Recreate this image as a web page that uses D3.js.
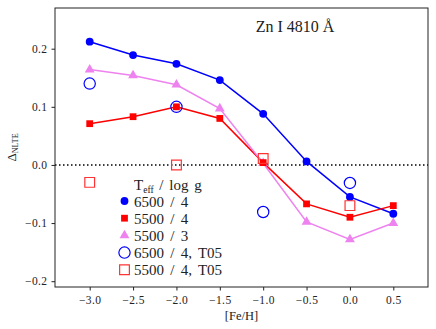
<!DOCTYPE html>
<html>
<head>
<meta charset="utf-8">
<script src="https://cdn.jsdelivr.net/npm/d3@7"></script>
<style>
body { margin: 0; background: #fff; }
text { font-family: "Liberation Serif", "DejaVu Serif", serif; fill: #222; }
</style>
</head>
<body>
<svg id="chart"></svg>
<script>
var width = 436, height = 329;
var margin = {top: 8, right: 8, bottom: 42, left: 55};

var feh = [-3.0, -2.5, -2.0, -1.5, -1.0, -0.5, 0.0, 0.5];
var hot_dwarf = [0.212, 0.189, 0.174, 0.146, 0.088, 0.006, -0.055, -0.084];   // 6500 / 4
var cool_dwarf = [0.071, 0.083, 0.100, 0.080, 0.004, -0.067, -0.090, -0.070]; // 5500 / 4
var cool_giant = [0.164, 0.154, 0.138, 0.097, 0.003, -0.098, -0.128, -0.100]; // 5500 / 3

var t05_feh = [-3.0, -2.0, -1.0, 0.0];
var t05_hot = [0.140, 0.100, -0.081, -0.031];
var t05_cool = [-0.030, 0.000, 0.011, -0.070];

var xticks = [-3.0, -2.5, -2.0, -1.5, -1.0, -0.5, 0.0, 0.5];
var yticks = [-0.2, -0.1, 0.0, 0.1, 0.2];

var svg = d3.select("#chart").attr("width", width).attr("height", height);

var x = d3.scaleLinear().domain([-3.4, 0.9]).range([margin.left, width - margin.right]);
var y = d3.scaleLinear().domain([-0.21, 0.27]).range([height - margin.bottom, margin.top]);

// zero line
svg.append("line")
    .attr("x1", x.range()[0]).attr("x2", x.range()[1])
    .attr("y1", y(0)).attr("y2", y(0))
    .attr("stroke", "#000").attr("stroke-width", 1.5)
    .attr("stroke-dasharray", "1.5,2.5");

var line = d3.line().x(function(d) { return x(d[0]); }).y(function(d) { return y(d[1]); });

function series(vals, color) {
    var pts = feh.map(function(f, i) { return [f, vals[i]]; });
    svg.append("path").datum(pts)
        .attr("d", line).attr("fill", "none")
        .attr("stroke", color).attr("stroke-width", 1.5);
    return pts;
}

var sym_circle = d3.symbol().type(d3.symbolCircle).size(48);
var sym_square = d3.symbol().type(d3.symbolSquare).size(46);
var sym_tri = d3.symbol().type(d3.symbolTriangle).size(42);

function markers(pts, sym, color, filled) {
    svg.append("g").selectAll("path")
        .data(pts).enter().append("path")
        .attr("transform", function(d) { return "translate(" + x(d[0]) + "," + y(d[1]) + ")"; })
        .attr("d", sym)
        .attr("fill", filled ? color : "none")
        .attr("stroke", color)
        .attr("stroke-width", filled ? 0 : 1.2);
}

var p1 = series(hot_dwarf, "#0000ff");
var p2 = series(cool_dwarf, "#ff0000");
var p3 = series(cool_giant, "#ee82ee");

var open_circle = d3.symbol().type(d3.symbolCircle).size(100);
var open_square = d3.symbol().type(d3.symbolSquare).size(95);

markers(p3, sym_tri, "#ee82ee", true);
markers(p2, sym_square, "#ff0000", true);
markers(p1, sym_circle, "#0000ff", true);

markers(t05_feh.map(function(f, i) { return [f, t05_hot[i]]; }), open_circle, "#0000ff", false);
markers(t05_feh.map(function(f, i) { return [f, t05_cool[i]]; }), open_square, "#ff3333", false);

// axes
var fmt = function(d) { return d3.format(".1f")(d).replace("-", "\u2212"); };
var xAxis = svg.append("g")
    .attr("transform", "translate(0," + (height - margin.bottom) + ")")
    .call(d3.axisBottom(x).tickValues(xticks).tickSize(3.5).tickPadding(5).tickFormat(fmt));
var yAxis = svg.append("g")
    .attr("transform", "translate(" + margin.left + ",0)")
    .call(d3.axisLeft(y).tickValues(yticks).tickSize(3.5).tickPadding(4).tickFormat(fmt));
[xAxis, yAxis].forEach(function(a) {
    a.selectAll(".domain").remove();
    a.selectAll("text").style("font-size", "11.5px").style("letter-spacing", "0.4px")
        .attr("fill", "#333")
        .style("font-family", "'Liberation Serif', serif");
    a.selectAll("line").attr("stroke", "#222");
});

svg.append("rect")
    .attr("x", margin.left).attr("y", margin.top)
    .attr("width", width - margin.left - margin.right)
    .attr("height", height - margin.top - margin.bottom)
    .attr("fill", "none").attr("stroke", "#222").attr("stroke-width", 1);

// labels
svg.append("text")
    .attr("x", 295).attr("y", 32)
    .attr("text-anchor", "middle")
    .style("font-size", "16px")
    .text("Zn I 4810 \u00c5");

svg.append("text")
    .attr("x", 241.5).attr("y", 320)
    .attr("text-anchor", "middle")
    .style("font-size", "12.5px")
    .text("[Fe/H]");

var ylab = svg.append("text")
    .attr("transform", "translate(16," + y(0.03) + ") rotate(-90)")
    .attr("text-anchor", "middle")
    .style("font-size", "13px");
ylab.append("tspan").text("\u0394");
ylab.append("tspan").attr("dy", 2).style("font-size", "8px").text("NLTE");

// legend
var legend = svg.append("g");
var lt = legend.append("text").attr("x", 134).attr("y", 190)
    .style("font-size", "15px").style("word-spacing", "2px");
lt.append("tspan").text("T");
lt.append("tspan").attr("dy", 3).style("font-size", "9.5px").text("eff");
lt.append("tspan").attr("dy", -3).text(" / log g");

var legend_items = [
    {label: "6500 / 4", sym: sym_circle, color: "#0000ff", filled: true},
    {label: "5500 / 4", sym: sym_square, color: "#ff0000", filled: true},
    {label: "5500 / 3", sym: sym_tri, color: "#ee82ee", filled: true},
    {label: "6500 / 4, T05", sym: open_circle, color: "#0000ff", filled: false},
    {label: "5500 / 4, T05", sym: open_square, color: "#ff3333", filled: false}
];
legend_items.forEach(function(d, i) {
    var yy = 201 + i * 17.2;
    legend.append("path")
        .attr("transform", "translate(124.5," + yy + ")")
        .attr("d", d.sym)
        .attr("fill", d.filled ? d.color : "none")
        .attr("stroke", d.color)
        .attr("stroke-width", d.filled ? 0 : 1.2);
    legend.append("text")
        .attr("x", 134).attr("y", yy + 5.5)
        .style("font-size", "15px").style("word-spacing", "2.5px")
        .text(d.label);
});
</script>
</body>
</html>
